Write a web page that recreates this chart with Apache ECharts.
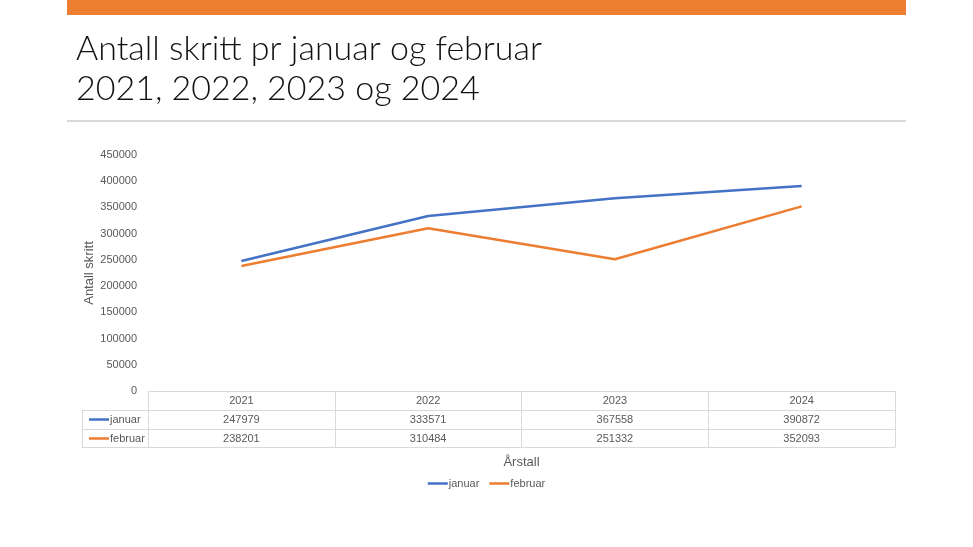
<!DOCTYPE html>
<html>
<head>
<meta charset="utf-8">
<script src="https://cdn.jsdelivr.net/npm/echarts@6/dist/echarts.min.js"></script>
<style>html,body{margin:0;padding:0;background:#fff}#c{width:973px;height:547px}</style>
</head>
<body>
<div id="c"></div>
<script>
var years = ['2021', '2022', '2023', '2024'];
var januar = [247979, 333571, 367558, 390872];
var februar = [238201, 310484, 251332, 352093];
var seriesNames = ['januar', 'februar'];
var titleLines = ['Antall skritt pr januar og februar', '2021, 2022, 2023 og 2024'];
var yTitle = 'Antall skritt';
var xTitle = 'Årstall';

var FONT = '"Liberation Sans", sans-serif';
var TFONT = 'Lato, "Liberation Sans", sans-serif';
var BLUE = '#4472C4', ORANGE = '#ED7D31', GRID = '#D9D9D9', TXT = '#595959';
var LINE_ICON = 'path://M0,0L20,0L20,2.5L0,2.5Z';

var chart = echarts.init(document.getElementById('c'));
function tableAxis(offset, formatter, extra) {
  var a = {
    type: 'category', data: years, position: 'bottom', gridIndex: 0,
    offset: offset,
    axisLine: {show: true, lineStyle: {color: GRID, width: 1}},
    axisTick: {show: false},
    axisLabel: {show: !!formatter, formatter: formatter, margin: 4, color: TXT, fontSize: 11, fontFamily: FONT}
  };
  for (var k in extra) a[k] = extra[k];
  return a;
}
chart.setOption({
  animation: false,
  textStyle: {fontFamily: FONT},
  title: {
    text: titleLines.join('\n'),
    left: 71, top: 24,
    textStyle: {fontFamily: TFONT, fontSize: 34, fontWeight: 300, color: '#111', lineHeight: 40}
  },
  graphic: [
    {type: 'rect', shape: {x: 67, y: 0, width: 839, height: 15}, style: {fill: ORANGE}, silent: true},
    {type: 'rect', shape: {x: 67, y: 120, width: 839, height: 2}, style: {fill: GRID}, silent: true},
    {type: 'line', shape: {x1: 82, y1: 410.5, x2: 148, y2: 410.5}, style: {stroke: GRID, lineWidth: 1}, silent: true},
    {type: 'line', shape: {x1: 82, y1: 429.5, x2: 148, y2: 429.5}, style: {stroke: GRID, lineWidth: 1}, silent: true},
    {type: 'line', shape: {x1: 82, y1: 447.5, x2: 148, y2: 447.5}, style: {stroke: GRID, lineWidth: 1}, silent: true},
    {type: 'line', shape: {x1: 82.5, y1: 410, x2: 82.5, y2: 448}, style: {stroke: GRID, lineWidth: 1}, silent: true}
  ],
  legend: [
    {
      data: seriesNames, orient: 'vertical', left: 84, top: 409,
      icon: LINE_ICON, itemWidth: 20, itemHeight: 3, itemGap: 8,
      textStyle: {color: TXT, fontSize: 11, fontFamily: FONT, padding: [0, 0, 0, -4]}
    },
    {
      data: seriesNames, orient: 'horizontal', left: 'center', top: 473,
      icon: LINE_ICON, itemWidth: 20, itemHeight: 3, itemGap: 10,
      textStyle: {color: TXT, fontSize: 11, fontFamily: FONT, padding: [0, 0, 0, -4]}
    }
  ],
  grid: {left: 148, right: 78, top: 155, bottom: 156, containLabel: false},
  xAxis: [
    tableAxis(0, function (v) { return v; }, {
      axisTick: {show: true, interval: 0, length: 56, lineStyle: {color: GRID}}
    }),
    tableAxis(19, function (v, i) { return String(januar[i]); }, {}),
    tableAxis(38, function (v, i) { return String(februar[i]); }, {}),
    tableAxis(56, null, {
      name: xTitle, nameLocation: 'middle', nameGap: 9, nameMoveOverlap: false,
      nameTextStyle: {color: TXT, fontSize: 13, fontFamily: FONT}
    })
  ],
  yAxis: {
    type: 'value', min: 0, max: 450000, interval: 50000,
    axisLine: {show: false}, axisTick: {show: false}, splitLine: {show: false},
    axisLabel: {color: TXT, fontSize: 11, fontFamily: FONT, margin: 11, formatter: function (v) { return String(v); }},
    name: yTitle, nameLocation: 'middle', nameGap: 52, nameMoveOverlap: false,
    nameTextStyle: {color: TXT, fontSize: 13, fontFamily: FONT}
  },
  series: [
    {name: seriesNames[0], type: 'line', data: januar, symbol: 'none', lineStyle: {color: BLUE, width: 2.5}, itemStyle: {color: BLUE}},
    {name: seriesNames[1], type: 'line', data: februar, symbol: 'none', lineStyle: {color: ORANGE, width: 2.5}, itemStyle: {color: ORANGE}}
  ]
});
</script>
</body>
</html>
